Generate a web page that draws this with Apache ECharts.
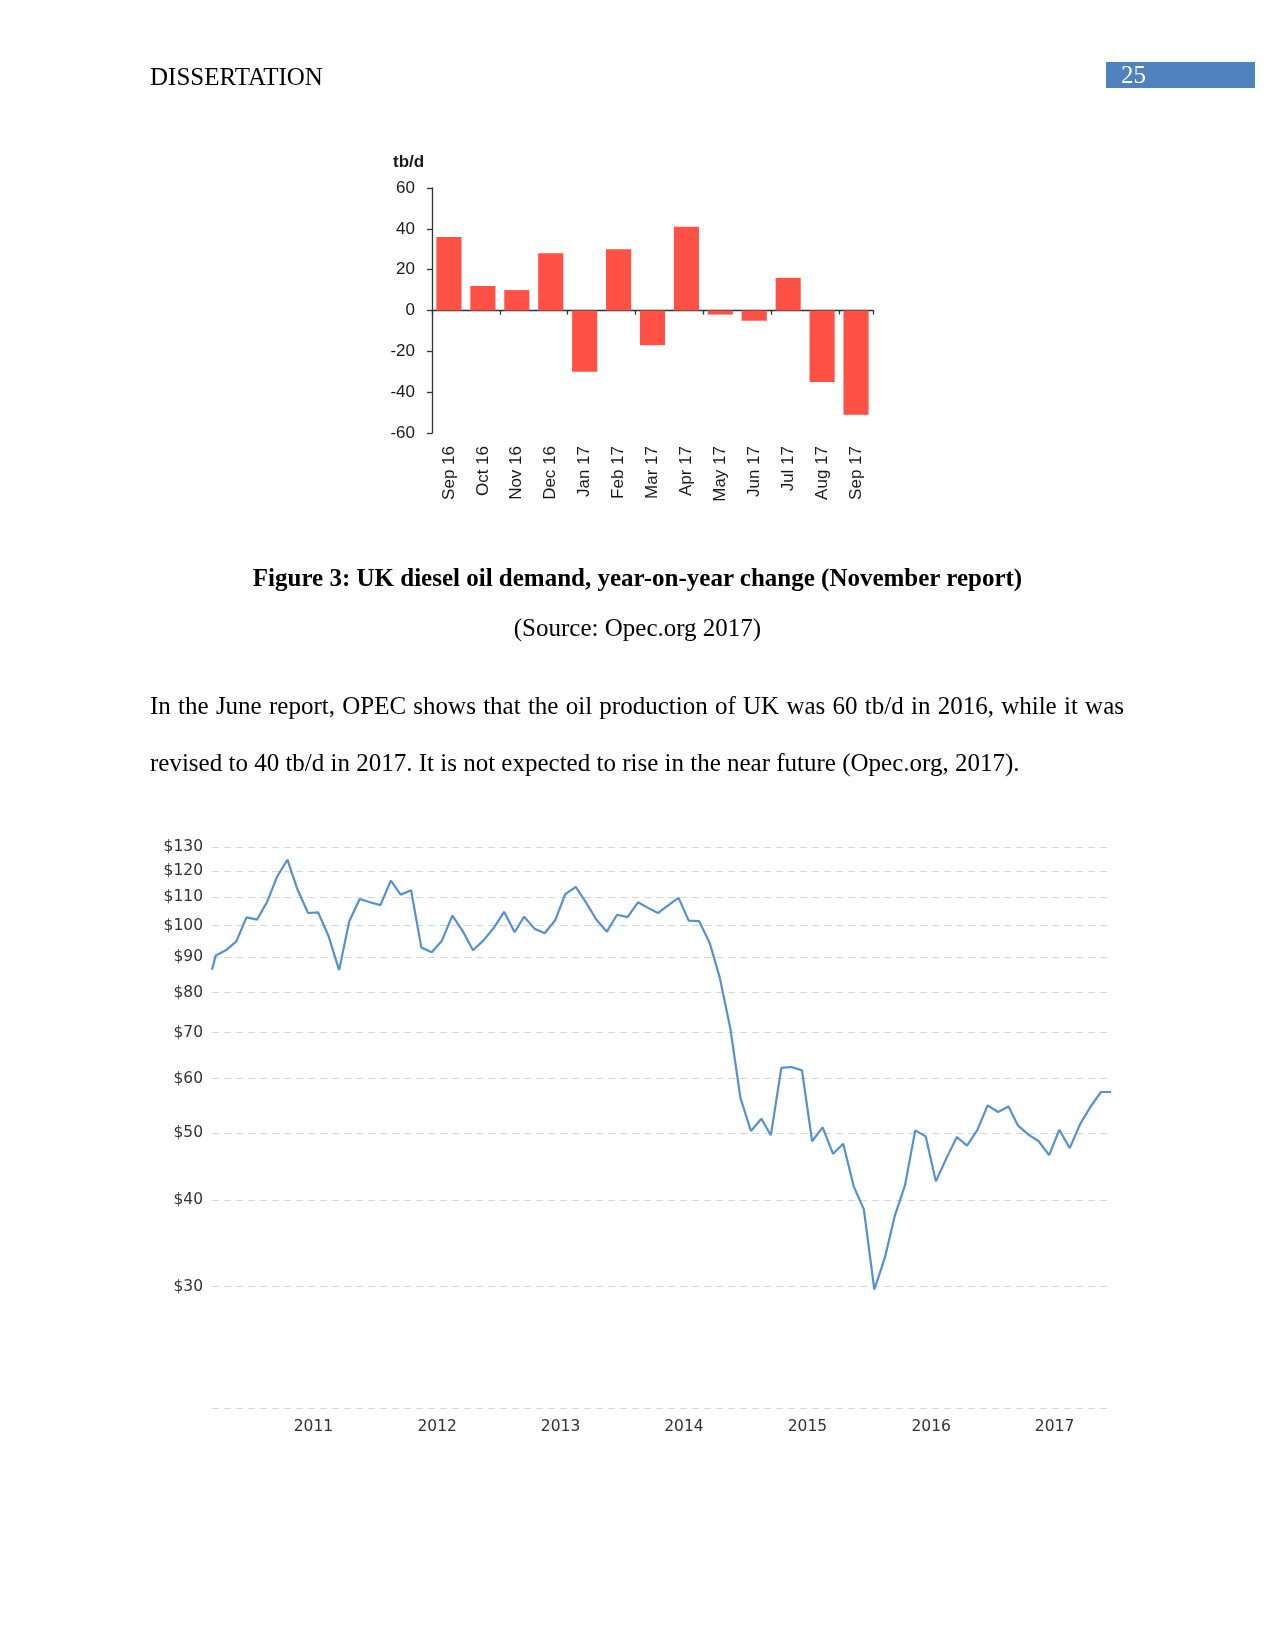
<!DOCTYPE html>
<html>
<head>
<meta charset="utf-8">
<script src="https://cdn.jsdelivr.net/npm/echarts@6/dist/echarts.min.js"></script>
<style>
  html, body { margin: 0; padding: 0; background: #fff; }
  #page { position: relative; width: 1275px; height: 1650px; overflow: hidden; background: #fff; }
  #chart { position: absolute; left: 0; top: 0; width: 1275px; height: 1650px; }
  .t { position: absolute; font-family: "Liberation Serif", "Times New Roman", serif; font-size: 25px; line-height: 25px; color: #000; white-space: nowrap; z-index: 2; }
</style>
</head>
<body>
<div id="page">
  <div id="chart"></div>
  <div class="t" style="left:150px; top:64px;">DISSERTATION</div>
  <div style="position:absolute; left:1106px; top:62px; width:149px; height:26px; background:#4f81bd; z-index:1;"></div>
  <div class="t" style="left:1121px; top:62px; color:#fff;">25</div>
  <div class="t" style="left:0; width:1275px; text-align:center; top:565px; font-weight:bold;">Figure 3: UK diesel oil demand, year-on-year change (November report)</div>
  <div class="t" style="left:0; width:1275px; text-align:center; top:615px;">(Source: Opec.org 2017)</div>
  <div class="t" style="left:150px; width:974px; top:693px; white-space:normal; text-align:justify; text-align-last:justify;">In the June report, OPEC shows that the oil production of UK was 60 tb/d in 2016, while it was</div>
  <div class="t" style="left:150px; top:750px;">revised to 40 tb/d in 2017. It is not expected to rise in the near future (Opec.org, 2017).</div>
  <div style="position:absolute; left:393px; top:152px; font-family:'Liberation Sans', Arial, sans-serif; font-weight:bold; font-size:17px; line-height:20px; color:#1a1a1a; z-index:2;">tb/d</div>
</div>
<script>
// ---- Figure 3: UK diesel oil demand, y-o-y change (tb/d) ----
const barCategories = ['Sep 16','Oct 16','Nov 16','Dec 16','Jan 17','Feb 17','Mar 17','Apr 17','May 17','Jun 17','Jul 17','Aug 17','Sep 17'];
const barValues = [36, 12, 10, 28, -30, 30, -17, 41, -2, -5, 16, -35, -51];
const barAxisMin = -60;
const barAxisMax = 60;
const barAxisStep = 20;

// ---- Oil price chart (monthly) ----
const priceDates = [
  '2010-09-04',
  '2010-09-15','2010-10-15','2010-11-15','2010-12-15',
  '2011-01-15','2011-02-15','2011-03-15','2011-04-15','2011-05-15','2011-06-15','2011-07-15','2011-08-15','2011-09-15','2011-10-15','2011-11-15','2011-12-15',
  '2012-01-15','2012-02-15','2012-03-15','2012-04-15','2012-05-15','2012-06-15','2012-07-15','2012-08-15','2012-09-15','2012-10-15','2012-11-15','2012-12-15',
  '2013-01-15','2013-02-15','2013-03-15','2013-04-15','2013-05-15','2013-06-15','2013-07-15','2013-08-15','2013-09-15','2013-10-15','2013-11-15','2013-12-15',
  '2014-01-15','2014-02-15','2014-03-15','2014-04-15','2014-05-15','2014-06-15','2014-07-15','2014-08-15','2014-09-15','2014-10-15','2014-11-15','2014-12-15',
  '2015-01-15','2015-02-15','2015-03-15','2015-04-15','2015-05-15','2015-06-15','2015-07-15','2015-08-15','2015-09-15','2015-10-15','2015-11-15','2015-12-15',
  '2016-01-15','2016-02-15','2016-03-15','2016-04-15','2016-05-15','2016-06-15','2016-07-15','2016-08-15','2016-09-15','2016-10-15','2016-11-15','2016-12-15',
  '2017-01-15','2017-02-15','2017-03-15','2017-04-15','2017-05-15','2017-06-15','2017-07-15','2017-08-15','2017-09-15','2017-10-15','2017-11-15','2017-12-15'
];
const priceValues = [
  86.3,
  90.5, 92.1, 94.9, 102.8,
  102.0, 108.5, 117.6, 124.6, 112.8, 104.3, 104.5, 96.5, 86.2, 101.5, 109.3, 108.1,
  107.1, 116.2, 110.9, 112.5, 93.0, 91.5, 95.1, 103.4, 98.1, 92.1, 95.2, 99.2,
  104.7, 97.8, 103.0, 99.0, 97.5, 101.8, 111.1, 113.8, 107.9, 102.0, 98.0, 103.7,
  102.9, 108.1, 106.2, 104.3, 107.0, 109.7, 101.7, 101.5, 94.4, 84.0, 71.0, 56.3,
  50.4, 52.5, 49.7, 62.2, 62.4, 61.7, 48.7, 51.0, 46.7, 48.3, 41.9, 38.8,
  29.7, 33.0, 37.9, 42.1, 50.5, 49.5, 42.6, 46.0, 49.4, 48.0, 50.6, 54.9,
  53.7, 54.7, 51.3, 49.8, 48.7, 46.5, 50.6, 47.6, 51.6, 54.6, 57.4, 57.4
];
const priceGridValues = [20, 30, 40, 50, 60, 70, 80, 90, 100, 110, 120, 130];
const priceGridLabels = ['', '$30', '$40', '$50', '$60', '$70', '$80', '$90', '$100', '$110', '$120', '$130'];
const yearLabelDates = ['2011-07-01','2012-07-01','2013-07-01','2014-07-01','2015-07-01','2016-07-01','2017-07-01'];
const yearLabelTexts = ['2011','2012','2013','2014','2015','2016','2017'];

const toTime = s => Date.parse(s + 'T00:00:00Z');

const chart = echarts.init(document.getElementById('chart'), null, { renderer: 'canvas' });

const barFont = { fontFamily: 'Liberation Sans, Arial, sans-serif', fontSize: 17, color: '#1a1a1a' };
const lineFont = { fontFamily: 'DejaVu Sans, Verdana, sans-serif', fontSize: 15.5, color: '#333333' };

chart.setOption({
  animation: false,
  backgroundColor: '#ffffff',
  grid: [
    { left: 432, top: 188, width: 441, height: 245 },
    { left: 212, top: 847, width: 899, height: 561 }
  ],
  xAxis: [
    {
      type: 'category', gridIndex: 0, data: barCategories,
      axisLine: { show: true, onZero: true, lineStyle: { color: '#333', width: 1.3 } },
      axisTick: { show: true, alignWithLabel: false, length: 4, lineStyle: { color: '#333', width: 1.3 } },
      axisLabel: { show: false },
      splitLine: { show: false }
    },
    {
      type: 'category', gridIndex: 0, data: barCategories, position: 'bottom',
      axisLine: { show: false, onZero: false },
      axisTick: { show: false },
      axisLabel: Object.assign({ show: true, rotate: 90, margin: 13, interval: 0 }, barFont),
      splitLine: { show: false }
    },
    {
      type: 'value', gridIndex: 1,
      min: toTime(priceDates[0]), max: toTime(priceDates[priceDates.length - 1]),
      axisLine: { show: false },
      axisTick: { show: false },
      splitLine: { show: false },
      axisLabel: Object.assign({
        show: true, margin: 11,
        customValues: yearLabelDates.map(toTime),
        formatter: function (v) {
          const i = yearLabelDates.map(toTime).indexOf(v);
          return i >= 0 ? yearLabelTexts[i] : '';
        }
      }, lineFont)
    }
  ],
  yAxis: [
    {
      type: 'value', gridIndex: 0, min: barAxisMin, max: barAxisMax, interval: barAxisStep,
      axisLine: { show: true, lineStyle: { color: '#333', width: 1.3 } },
      axisTick: { show: true, length: 5, lineStyle: { color: '#333', width: 1.3 } },
      axisLabel: Object.assign({ margin: 17 }, barFont),
      splitLine: { show: false }
    },
    {
      type: 'log', logBase: 10, gridIndex: 1, min: 20, max: 130,
      axisLine: { show: false }, axisTick: { show: false },
      axisLabel: { show: false }, splitLine: { show: false }
    }
  ],
  series: [
    {
      type: 'bar', xAxisIndex: 0, yAxisIndex: 0,
      data: barValues,
      barCategoryGap: '26%',
      itemStyle: { color: '#ff5145' }
    },
    {
      type: 'line', xAxisIndex: 2, yAxisIndex: 1,
      data: priceDates.map((d, i) => [toTime(d), priceValues[i]]),
      showSymbol: false, symbol: 'none',
      lineStyle: { color: '#5591cd', width: 2.2 },
      z: 3,
      markLine: {
        silent: true, z: 1, animation: false,
        symbol: ['none', 'none'],
        lineStyle: { color: '#d6d6d6', type: [7, 5], width: 1 },
        label: Object.assign({
          show: true, position: 'start', distance: 9,
          formatter: function (p) {
            const i = priceGridValues.indexOf(p.value);
            return i >= 0 ? priceGridLabels[i] : '';
          }
        }, lineFont),
        emphasis: { disabled: true },
        data: priceGridValues.map(v => ({ yAxis: v }))
      }
    }
  ]
});
</script>
</body>
</html>
